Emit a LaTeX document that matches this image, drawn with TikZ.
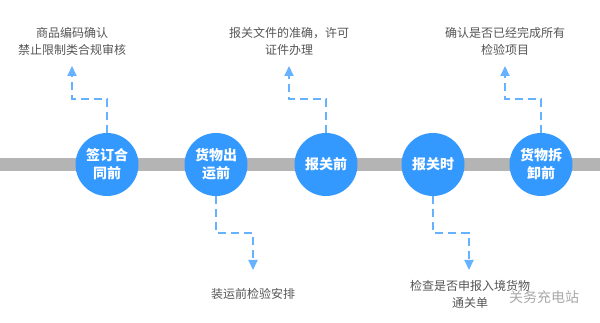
\documentclass[tikz,border=0pt]{standalone}
\usepackage{fontspec}
\setmainfont{Noto Sans CJK SC}
\usetikzlibrary{arrows.meta}
\definecolor{cblue}{HTML}{3399FF}
\definecolor{dblue}{HTML}{66B2FF}
\definecolor{bargray}{HTML}{B4B4B4}
\definecolor{tgray}{HTML}{555555}
\definecolor{wgray}{HTML}{A8A8A8}
\begin{document}
\begin{tikzpicture}[x=1pt,y=-1pt,
  stage/.style={circle,fill=cblue,minimum size=63pt,inner sep=0pt,text=white,
    font=\fontsize{14}{18}\selectfont\bfseries,align=center},
  note/.style={text=tgray,font=\fontsize{12}{17}\selectfont,align=center,inner sep=0pt},
  dl/.style={draw=dblue,line width=1.8pt,dash pattern=on 8pt off 5pt,
    -{Triangle[length=10pt,width=9pt]}}]
\useasboundingbox (0,0) rectangle (600,323);
% timeline bar
\fill[bargray] (0,158) rectangle (600,171);
% stages
\node[stage] (c1) at (107,164.5) {签订合\\同前};
\node[stage] (c2) at (216,164.5) {货物出\\运前};
\node[stage] (c3) at (326,164.5) {报关前};
\node[stage] (c4) at (433,164.5) {报关时};
\node[stage] (c5) at (541,164.5) {货物拆\\卸前};
% notes
\node[note] (t1) at (72,41.5) {商品编码确认\\禁止限制类合规审核};
\node[note] (t3) at (289,41.5) {报关文件的准确，许可\\证件办理};
\node[note] (t5) at (505,41.5) {确认是否已经完成所有\\检验项目};
\node[note] (t2) at (253,294) {装运前检验安排};
\node[note] (t4) at (470,294) {检查是否申报入境货物\\通关单};
% arrow tips
\coordinate (a1) at (72,66);
\coordinate (a3) at (289,66);
\coordinate (a5) at (505,66);
\coordinate (a2) at (253,270);
\coordinate (a4) at (469,270);
% connectors
\draw[dl] (c1.north) |- (72,99) -- (a1);
\draw[dl] (c3.north) |- (289,99) -- (a3);
\draw[dl] (c5.north) |- (505,99) -- (a5);
\draw[dl] (c2.south) |- (253,233) -- (a2);
\draw[dl] (c4.south) |- (469,233) -- (a4);
% watermark
\node[text=wgray,font=\fontsize{14}{16}\selectfont,inner sep=0pt] (wm) at (544,297) {关务充电站};
\end{tikzpicture}
\end{document}
